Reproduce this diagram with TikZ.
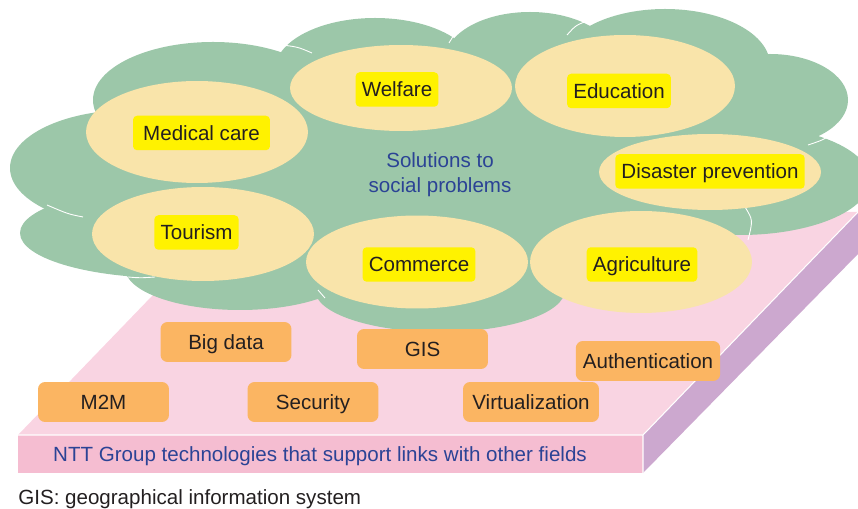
\documentclass[tikz,border=0pt]{standalone}
\usepackage{fontspec}
\setmainfont{Liberation Sans}
\usetikzlibrary{shapes.geometric}

\definecolor{cloudgreen}{HTML}{9CC7A9}
\definecolor{fieldbeige}{HTML}{F9E4AA}
\definecolor{tagyellow}{HTML}{FFF200}
\definecolor{chiporange}{HTML}{FBB562}
\definecolor{slabtop}{HTML}{F9D4E2}
\definecolor{slabfront}{HTML}{F5BDD1}
\definecolor{slabside}{HTML}{CCA8CF}
\definecolor{textblue}{HTML}{2B4395}
\definecolor{textdark}{HTML}{231F20}

\tikzset{
	lobe/.style={fill=cloudgreen},
	seam/.style={white, line width=0.5pt},
	field/.style={ellipse, fill=fieldbeige, inner sep=0pt, minimum width=4.44cm},
	tag/.style={fill=tagyellow, text=textdark, rounded corners=2.3pt, inner xsep=3.5pt,
		inner ysep=0pt, minimum height=0.69cm, text height=8.1pt, text depth=0pt},
	chip/.style={fill=chiporange, text=textdark, rounded corners=4pt, inner xsep=4pt,
		minimum width=2.62cm, minimum height=0.8cm, text height=8.1pt, text depth=0pt}
}

\begin{document}
\begin{tikzpicture}[x=0.02cm, y=-0.02cm, font=\fontsize{11.7}{14.2}\selectfont]
			\useasboundingbox (0,0) rectangle (858,509);
			\clip (0,0) rectangle (858,509);
			%Tam nen
			\fill[slabtop] (18,435) -- (643,435) -- (858,212) -- (233,212) -- cycle;
			\fill[slabside] (643,435) -- (858,212) -- (858,254) -- (643,473) -- cycle;
			\fill[slabfront] (18,435) rectangle (643,473);
			\draw[white, line width=0.6pt] (18,435) -- (643,435) -- (858,212) (643,435) -- (643,473);
			%Dam may
			\fill[lobe] (440,165) ellipse [x radius=320, y radius=120];
			\fill[lobe] (213,100) ellipse [x radius=120, y radius=58];
			\fill[lobe] (375,70) ellipse [x radius=100, y radius=52];
			\fill[lobe] (530,60) ellipse [x radius=85, y radius=48];
			\fill[lobe] (665,65) ellipse [x radius=105, y radius=56];
			\fill[lobe] (770,100) ellipse [x radius=78, y radius=46];
			\fill[lobe] (740,180) ellipse [x radius=130, y radius=55];
			\fill[lobe] (130,168) ellipse [x radius=120, y radius=58];
			\fill[lobe] (170,233) ellipse [x radius=150, y radius=45];
			\fill[lobe] (240,268) ellipse [x radius=115, y radius=42];
			\fill[lobe] (440,290) ellipse [x radius=125, y radius=42];
			%Duong noi giua cac manh may
			\draw[seam] (47,205) .. controls (68,214) .. (83,217);
			\draw[seam] (282,45) .. controls (298,47) .. (312,53);
			\draw[seam] (449,43) .. controls (458,28) .. (477,17);
			\draw[seam] (567,35) .. controls (576,25) .. (590,20);
			\draw[seam] (808,145) .. controls (826,139) .. (837,128);
			\draw[seam] (745,207) .. controls (753,220) .. (748,240);
			\draw[seam] (128,277) .. controls (140,278) .. (155,277);
			\draw[seam] (318,290) .. controls (321,294) .. (325,298);
			%Cac linh vuc
			\node[field, minimum height=1.72cm] (welfare) at (401,88) {};
			\node[field, minimum width=4.4cm, minimum height=2.04cm] (education) at (625,86) {};
			\node[field, minimum height=2.04cm] (medical) at (197,132) {};
			\node[field, minimum height=1.52cm] (disaster) at (710,172) {};
			\node[field, minimum height=1.88cm] (tourism) at (203,234) {};
			\node[field, minimum height=1.86cm] (commerce) at (417,262) {};
			\node[field, minimum height=2.04cm] (agriculture) at (641,262) {};
			%Nhan vang
			\node[tag] (welfaretag) at (397,89.5) {Welfare};
			\node[tag] (educationtag) at (619,91) {Education};
			\node[tag, minimum width=2.74cm] (medicaltag) at (201.5,133) {Medical care};
			\node[tag] (disastertag) at (710,171.5) {Disaster prevention};
			\node[tag] (tourismtag) at (196.5,232.5) {Tourism};
			\node[tag] (commercetag) at (419,264.5) {Commerce};
			\node[tag] (agriculturetag) at (642,264.5) {Agriculture};
			\node[text=textblue, align=center, inner sep=0pt] (solutions) at (440,175) {Solutions to\\social problems};
			%Cong nghe
			\node[chip] (bigdata) at (226,342) {Big data};
			\node[chip] (gis) at (422.5,349) {GIS};
			\node[chip, minimum width=2.88cm] (auth) at (648,361) {Authentication};
			\node[chip] (m2m) at (103.5,402) {M2M};
			\node[chip] (security) at (313,402) {Security};
			\node[chip, minimum width=2.72cm] (virtual) at (531,402) {Virtualization};
			%Chu thich
			\node[text=textblue, inner sep=0pt] (ntt) at (320,456) {NTT Group technologies that support links with other fields};
			\node[text=textdark, anchor=base west, inner sep=0pt] (gisnote) at (18,504) {GIS: geographical information system};
\end{tikzpicture}
\end{document}
